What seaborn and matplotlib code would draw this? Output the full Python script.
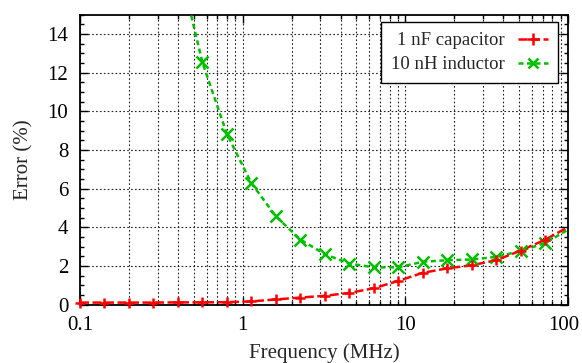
import matplotlib
matplotlib.use("Agg")
import matplotlib.pyplot as plt
import seaborn as sns
import pandas as pd
import numpy as np
from matplotlib.lines import Line2D
from matplotlib.transforms import ScaledTranslation
from matplotlib.ticker import LogLocator, FixedLocator, MultipleLocator, NullFormatter

# ---- data ----
freq_mhz = [0.1, 0.1414, 0.2, 0.2828, 0.4, 0.5657, 0.8, 1.131, 1.6, 2.263, 3.2,
            4.525, 6.4, 9.051, 12.8, 18.10, 25.6, 36.20, 51.2, 72.41, 102.4]
cap_err = [0.10, 0.10, 0.10, 0.10, 0.11, 0.11, 0.12, 0.16, 0.26, 0.36, 0.45,
           0.60, 0.84, 1.22, 1.64, 1.87, 2.03, 2.29, 2.79, 3.35, 4.05]
ind_err = [70.0, 50.0, 35.0, 25.0, 17.8, 12.52, 8.82, 6.28, 4.56, 3.36, 2.60,
           2.12, 1.92, 1.92, 2.21, 2.29, 2.33, 2.46, 2.77, 3.18, 3.92]
series_names = ["1 nF capacitor", "10 nH inductor"]
x_ticks = [0.1, 1, 10, 100]
x_ticklabels = ["0.1", "1", "10", "100"]
y_ticks = [0, 2, 4, 6, 8, 10, 12, 14]

sns.set_theme(style="ticks")
plt.rcParams["font.family"] = ["Liberation Serif", "DejaVu Serif"]

W, H = 582, 363
fig = plt.figure(figsize=(W / 100, H / 100), dpi=100)
ax = fig.add_axes([80 / W, (H - 304.5) / H, (568 - 80) / W, (304.5 - 14.5) / H])

df = pd.DataFrame({"freq": freq_mhz, "cap": cap_err, "ind": ind_err})

red = "#ff0000"
green = "#00c000"
cap_dash = (0, (3.6, 1.4))
ind_dash = (0, (2.0, 1.4))
LW = 1.8
MEW = 1.8

sns.lineplot(data=df, x="freq", y="cap", ax=ax, color=red, lw=LW,
             linestyle=cap_dash, zorder=4)
sns.lineplot(data=df, x="freq", y="ind", ax=ax, color=green, lw=LW,
             linestyle=ind_dash, zorder=3)

ymax = 15
xmax = 100
vis = df[(df["freq"] <= xmax)]
sns.scatterplot(data=vis, x="freq", y="cap", ax=ax, marker="+", s=55,
                color=red, linewidth=MEW, clip_on=False, zorder=5)
vis_i = vis[vis["ind"] <= ymax]
sns.scatterplot(data=vis_i, x="freq", y="ind", ax=ax, marker="x", s=75,
                color=green, linewidth=MEW, clip_on=False, zorder=4)

ax.set_xscale("log")
ax.set_xlim(0.1, 100)
ax.set_ylim(0, ymax)
ax.xaxis.set_major_locator(FixedLocator(x_ticks))
ax.set_xticklabels(x_ticklabels)
ax.xaxis.set_minor_locator(LogLocator(base=10, subs=np.arange(2, 10)))
ax.xaxis.set_minor_formatter(NullFormatter())
ax.set_yticks(y_ticks)
ax.yaxis.set_minor_locator(MultipleLocator(0.5))

FS = 15
ax.tick_params(which="both", direction="in", top=True, right=True,
               colors="black", labelsize=FS, width=1.0)
ax.tick_params(which="major", length=6)
ax.tick_params(which="minor", length=3)
ax.tick_params(axis="x", which="major", pad=8.5)
ax.tick_params(axis="y", which="major", pad=8.5)

# keep the "100" label inside the figure edge
last = ax.get_xticklabels()[-1]
last.set_transform(last.get_transform() + ScaledTranslation(-3 / 72, 0, fig.dpi_scale_trans))

ax.grid(True, which="major", axis="both", color="#222222",
        linestyle=(0, (1.5, 2)), lw=0.8)
ax.grid(True, which="minor", axis="x", color="#222222",
        linestyle=(0, (1.5, 2)), lw=0.8)
ax.set_axisbelow(True)

for s in ax.spines.values():
    s.set_color("black")
    s.set_linewidth(1.3)

ax.set_xlabel("Frequency (MHz)", fontsize=FS, labelpad=6)
ax.set_ylabel("Error (%)", fontsize=FS, labelpad=10)

handles = [
    Line2D([], [], color=red, lw=LW, linestyle=cap_dash, marker="+",
           markersize=8, mew=MEW),
    Line2D([], [], color=green, lw=LW, linestyle=ind_dash, marker="x",
           markersize=7.5, mew=MEW),
]
leg = ax.legend(handles, series_names, loc="upper right",
                bbox_to_anchor=((558 - 80) / 488, (304.5 - 22) / 290),
                borderaxespad=0, markerfirst=False,
                frameon=True, fancybox=False, edgecolor="black",
                framealpha=1.0, fontsize=13.5, handlelength=1.6,
                borderpad=0.55, labelspacing=0.35, handletextpad=0.7)
leg.get_frame().set_linewidth(1.0)

fig.savefig("out.png", dpi=100)
